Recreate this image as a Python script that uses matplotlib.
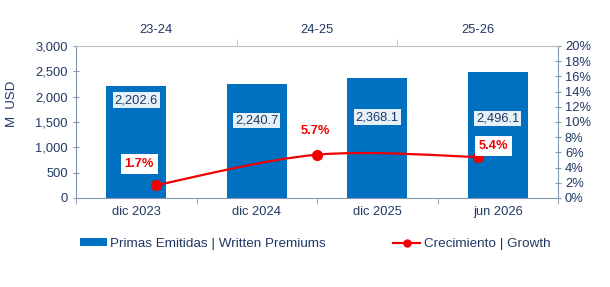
import matplotlib
matplotlib.use("Agg")
import matplotlib.pyplot as plt
from matplotlib.path import Path
from matplotlib.patches import PathPatch, Patch
from matplotlib.lines import Line2D
from matplotlib.ticker import FuncFormatter, MultipleLocator, FixedLocator

plt.rcParams['font.family'] = ['Liberation Sans', 'DejaVu Sans']

# ---- data ----
categories = ["dic 2023", "dic 2024", "dic 2025", "jun 2026"]
premiums = [2202.6, 2240.7, 2368.1, 2496.1]
periods = ["23-24", "24-25", "25-26"]
growth = [1.7, 5.7, 5.4]
premium_labels = ["2,202.6", "2,240.7", "2,368.1", "2,496.1"]
growth_labels = ["1.7%", "5.7%", "5.4%"]

NAVY = "#1F3864"
BLUE = "#0070C0"
RED = "#F00000"
SPINE = "#8496B0"

fig = plt.figure(figsize=(6.10, 2.87), dpi=100)
ax = fig.add_axes([76/610, 1-198/287, (558-76)/610, (198-46)/287])

x = list(range(len(categories)))
ax.bar(x, premiums, width=0.5, color=BLUE, zorder=2)
ax.set_xlim(-0.5, len(categories)-0.5)
ax.set_ylim(0, 3000)
ax.yaxis.set_major_locator(MultipleLocator(500))
ax.yaxis.set_major_formatter(FuncFormatter(lambda v, p: f"{v:,.0f}"))
ax.set_xticks(x)
ax.set_xticklabels(categories)
ax.xaxis.set_minor_locator(FixedLocator([i + 0.5 for i in range(-1, len(categories))]))
ax.tick_params(axis='x', which='major', length=0, pad=6, labelsize=9.3, labelcolor=NAVY)
ax.tick_params(axis='x', which='minor', length=4, color=SPINE, direction='out')
ax.tick_params(axis='y', length=4, color=SPINE, direction='inout', labelsize=9.3, labelcolor=NAVY, pad=4)
for s in ['left', 'bottom']:
    ax.spines[s].set_color(SPINE)
ax.spines['top'].set_visible(False)
ax.spines['right'].set_visible(False)

# bar labels
bar_offsets = [-14, -36, -39, -47]
for xi, v, lab, off in zip(x, premiums, premium_labels, bar_offsets):
    ax.annotate(lab, (xi, v), xytext=(0, off), textcoords='offset pixels',
                ha='center', va='center', fontsize=9.3, color=NAVY, zorder=5,
                bbox=dict(boxstyle='square,pad=0.15', fc='white', ec='none', alpha=0.9))

# right percent axis
ax2 = ax.twinx()
ax2.set_ylim(0, 20)
ax2.yaxis.set_major_locator(MultipleLocator(2))
ax2.yaxis.set_major_formatter(FuncFormatter(lambda v, p: f"{v:.0f}%"))
ax2.tick_params(axis='y', length=4, color=SPINE, direction='inout', labelsize=9.3, labelcolor=NAVY, pad=3)
ax2.spines['right'].set_color(SPINE)
for s in ['left', 'bottom', 'top']:
    ax2.spines[s].set_visible(False)

# top period axis
ax3 = ax2.twiny()
ax3.set_xlim(-0.5, len(periods)-0.5)
xp = list(range(len(periods)))
ax3.set_xticks(xp)
ax3.set_xticklabels(periods)
ax3.xaxis.set_minor_locator(FixedLocator([i + 0.5 for i in range(len(periods)-1)]))
ax3.tick_params(axis='x', which='major', length=0, pad=7, labelsize=9.3, labelcolor=NAVY)
ax3.tick_params(axis='x', which='minor', length=5, color='#BFBFBF', direction='out')
ax3.spines['top'].set_color('#BFBFBF')
for s in ['left', 'bottom', 'right']:
    ax3.spines[s].set_visible(False)

# smoothed growth line (cubic Bezier through points)
pts = list(zip(xp, growth))
n = len(pts)
verts = [pts[0]]
codes = [Path.MOVETO]
for i in range(n-1):
    p0 = pts[max(i-1, 0)]
    p1 = pts[i]
    p2 = pts[i+1]
    p3 = pts[min(i+2, n-1)]
    c1 = (p1[0] + (p2[0]-p0[0])/6, p1[1] + (p2[1]-p0[1])/6)
    c2 = (p2[0] - (p3[0]-p1[0])/6, p2[1] - (p3[1]-p1[1])/6)
    verts += [c1, c2, p2]
    codes += [Path.CURVE4]*3
ax3.add_patch(PathPatch(Path(verts, codes), fc='none', ec=RED, lw=1.6, zorder=4))
ax3.plot(xp, growth, linestyle='none', marker='o', markersize=7, color=RED, zorder=5)

g_offsets = [(-17, 21), (-2, 24), (16, 11)]
for xi, v, lab, off in zip(xp, growth, growth_labels, g_offsets):
    ax3.annotate(lab, (xi, v), xytext=off, textcoords='offset pixels',
                 ha='center', va='center', fontsize=9.3, fontweight='bold', color=RED, zorder=6,
                 bbox=dict(boxstyle='square,pad=0.3', fc='white', ec='none'))

# y label
fig.text(12/610, 1-104/287, "M  USD", rotation=90, ha='center', va='center', fontsize=9.5, color=NAVY)

# legend
handles = [Patch(facecolor=BLUE, edgecolor='none'),
           Line2D([0], [0], color=RED, lw=1.6, marker='o', markersize=5)]
labels = ["Primas Emitidas | Written Premiums", "Crecimiento | Growth"]
leg = fig.legend(handles, labels, loc='center', bbox_to_anchor=(315/610, 1-244/287), ncol=2,
                 frameon=False, fontsize=9.7, handlelength=2.0, handleheight=0.55, handletextpad=0.25,
                 columnspacing=5.0, labelcolor=NAVY)

fig.savefig("out.png", dpi=100, facecolor='white')
